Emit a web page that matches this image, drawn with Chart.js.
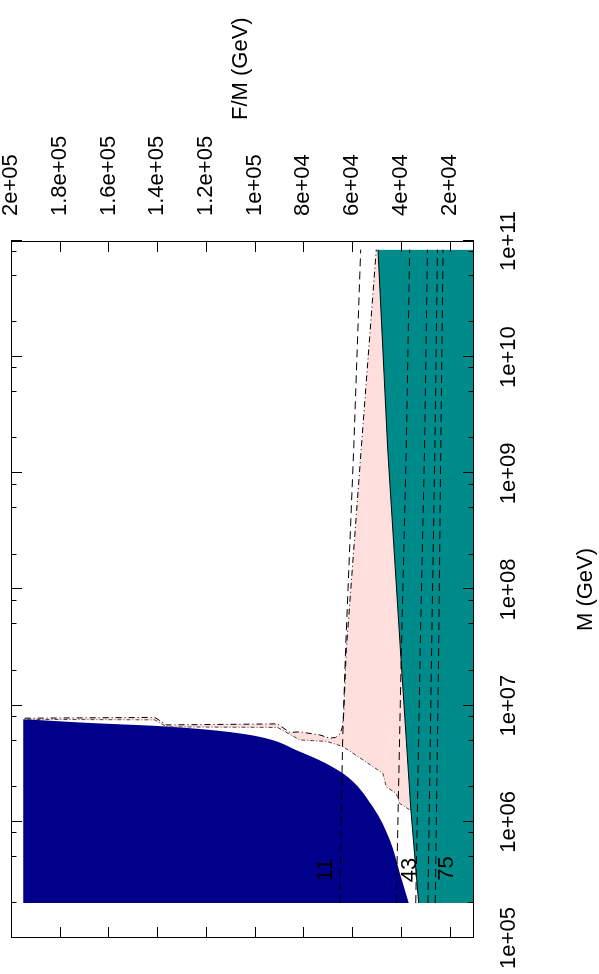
<!DOCTYPE html>
<html>
<head>
<meta charset="utf-8">
<script src="https://cdn.jsdelivr.net/npm/chart.js@4.4.1/dist/chart.umd.min.js"></script>
<style>
  html, body { margin: 0; padding: 0; background: #fff; overflow: hidden; }
  #wrap { position: absolute; left: 0; top: 0; width: 974px; height: 599px;
          transform-origin: 0 0; transform: translateY(974px) rotate(-90deg); }
</style>
</head>
<body>
<div id="wrap"><canvas id="plot" width="974" height="599"></canvas></div>
<script>
// axes: M (GeV) log, F/M (GeV) linear
var mRange = [1e5, 1e11];
var fRange = [1e4, 2e5];
var mTicks = [1e5, 1e6, 1e7, 1e8, 1e9, 1e10, 1e11];
var mTickLabels = ['1e+05', '1e+06', '1e+07', '1e+08', '1e+09', '1e+10', '1e+11'];
var mMinor = [2, 5, 8];
var fTicks = [2e4, 4e4, 6e4, 8e4, 1e5, 1.2e5, 1.4e5, 1.6e5, 1.8e5, 2e5];
var fTickLabels = ['2e+04', '4e+04', '6e+04', '8e+04', '1e+05', '1.2e+05', '1.4e+05', '1.6e+05', '1.8e+05', '2e+05'];

// navy region, lower edge (filled up to navyTop)
var navyM = [2.0e5, 3.63e5, 7.0e5, 1.35e6, 2.62e6, 4.02e6, 5.6e6, 6.31e6, 6.74e6, 7.04e6, 7.65e6];
var navyF = [3.68e4, 4.05e4, 4.46e4, 5.16e4, 6.39e4, 8.15e4, 1.02e5, 1.23e5, 1.43e5, 1.64e5, 1.95e5];
var navyTop = 1.95e5;

// teal region, upper edge (filled down to the axis)
var tealM = [2.0e5, 1.34e6, 3.03e7, 1.6e9, 8.43e10];
var tealF = [3.27e4, 3.6e4, 4.02e4, 4.54e4, 4.94e4];

// dash-dot edge of the pink region
var dashDotM = [7.8e6, 7.93e6, 6.83e6, 6.97e6, 5.89e6, 5.95e6, 5.6e6, 5.25e6, 5.33e6, 5.71e6, 6.44e6, 8.34e6, 3.03e7, 2.43e8, 1.95e9, 8.43e10];
var dashDotF = [1.944e5, 1.41e5, 1.361e5, 9.06e4, 8.56e4, 8.15e4, 7.33e4, 6.92e4, 6.68e4, 6.51e4, 6.41e4, 6.35e4, 6.24e4, 5.92e4, 5.6e4, 5.01e4];

// lower edge of the pink region, from the tip to the navy corner
var pinkLowM = [1.27e6, 1.44e6, 1.76e6, 2.0e6, 2.62e6, 4.45e6, 4.93e6, 5.07e6, 6.5e6, 6.57e6, 7.55e6, 7.62e6];
var pinkLowF = [3.64e4, 4.05e4, 4.19e4, 4.6e4, 4.74e4, 6.38e4, 7.05e4, 8.15e4, 9.06e4, 1.361e5, 1.41e5, 1.952e5];

// dashed contours
var line11M = [2.0e5, 5.07e6, 3.03e7, 1.76e9, 8.43e10];
var line11F = [6.51e4, 6.39e4, 6.27e4, 5.93e4, 5.65e4];
var line43M = [2.0e5, 3.03e7, 1.6e9, 8.43e10];
var line43F = [4.19e4, 3.98e4, 3.78e4, 3.64e4];
var lineAM = [2.0e5, 3.69e7, 1.6e9, 8.43e10];
var lineAF = [3.39e4, 3.2e4, 3.03e4, 2.91e4];
var lineBM = [2.0e5, 3.03e7, 1.95e9, 8.43e10];
var lineBF = [2.89e4, 2.74e4, 2.6e4, 2.5e4];
var lineCM = [2.0e5, 3.03e7, 1.95e9, 8.43e10];
var lineCF = [2.59e4, 2.45e4, 2.36e4, 2.27e4];

var curveLabels = ['11', '43', '75'];
var labelM = [3.85e5, 3.85e5, 3.97e5];
var labelF = [7.07e4, 3.64e4, 2.12e4];

function pts(ms, fs) {
	return ms.map(function (m, i) { return {x: m, y: fs[i]}; });
}

// pink polygon: dash-dot edge, back down the teal edge, then the lower edge
var pinkPoly = pts(dashDotM, dashDotF)
	.concat(pts(tealM, tealF).filter(function (p) { return p.x > 1.4e6; }).reverse())
	.concat(pts(pinkLowM, pinkLowF));

function dashed(ms, fs) {
	return {data: pts(ms, fs), borderColor: '#000', borderWidth: 1, borderDash: [8, 5],
		pointRadius: 0, fill: false, order: 1};
}

var FONT = '"Liberation Sans", Arial, Helvetica, sans-serif';
Chart.defaults.font.family = FONT;
Chart.defaults.font.size = 22;
Chart.defaults.color = '#000';

var framePlugin = {
	id: 'frame',
	afterDatasetsDraw: function (chart) {
		var ctx = chart.ctx, a = chart.chartArea, x = chart.scales.x, y = chart.scales.y;
		ctx.save();
		ctx.strokeStyle = '#000';
		ctx.lineWidth = 1;
		ctx.strokeRect(a.left + 0.5, a.top + 0.5, a.right - a.left - 1, a.bottom - a.top - 1);
		ctx.beginPath();
		mTicks.forEach(function (d, i) {
			var vals = [[d, 11]];
			if (i < mTicks.length - 1) mMinor.forEach(function (k) { vals.push([k * d, 5.5]); });
			vals.forEach(function (t) {
				var px = Math.round(x.getPixelForValue(t[0])) + 0.5;
				ctx.moveTo(px, a.top); ctx.lineTo(px, a.top + t[1]);
				ctx.moveTo(px, a.bottom); ctx.lineTo(px, a.bottom - t[1]);
			});
		});
		fTicks.forEach(function (v) {
			var py = Math.round(y.getPixelForValue(v)) + 0.5;
			ctx.moveTo(a.left, py); ctx.lineTo(a.left + 11, py);
			ctx.moveTo(a.right, py); ctx.lineTo(a.right - 11, py);
		});
		ctx.stroke();

		ctx.fillStyle = '#000';
		ctx.font = '22px ' + FONT;
		ctx.textAlign = 'center';
		ctx.textBaseline = 'middle';
		curveLabels.forEach(function (t, i) {
			ctx.fillText(t, x.getPixelForValue(labelM[i]), y.getPixelForValue(labelF[i]));
		});
		ctx.textAlign = 'left';
		ctx.textBaseline = 'alphabetic';
		ctx.fillText('F/M (GeV)', a.right + 121, (a.top + a.bottom) / 2 + 4);
		ctx.restore();
	}
};

new Chart(document.getElementById('plot'), {
	type: 'line',
	data: {
		datasets: [
			{data: pts(navyM, navyF), fill: {value: navyTop}, backgroundColor: '#00008B',
				borderWidth: 0, pointRadius: 0, cubicInterpolationMode: 'monotone', order: 10},
			{data: pinkPoly, fill: 'shape', backgroundColor: '#FFDEDE',
				borderWidth: 0, pointRadius: 0, order: 10},
			{data: pts(tealM, tealF), fill: 'start', backgroundColor: '#008B8B',
				borderColor: '#000', borderWidth: 1, pointRadius: 0, order: 5},
			{data: pts(dashDotM, dashDotF), borderColor: '#000', borderWidth: 1,
				borderDash: [6, 3, 1, 3], pointRadius: 0, fill: false, order: 1},
			{data: pts(pinkLowM, pinkLowF), borderColor: '#444', borderWidth: 1,
				borderDash: [4, 2, 1, 2], pointRadius: 0, fill: false, order: 1},
			dashed(line11M, line11F),
			dashed(line43M, line43F),
			dashed(lineAM, lineAF),
			dashed(lineBM, lineBF),
			dashed(lineCM, lineCF)
		]
	},
	options: {
		responsive: false,
		animation: false,
		devicePixelRatio: 1,
		layout: {padding: {left: 36, top: 11, right: 0, bottom: 0}},
		plugins: {legend: {display: false}, tooltip: {enabled: false}},
		scales: {
			x: {
				type: 'logarithmic', position: 'bottom', min: mRange[0], max: mRange[1],
				grid: {display: false}, border: {display: false},
				afterBuildTicks: function (s) { s.ticks = mTicks.map(function (v) { return {value: v}; }); },
				ticks: {autoSkip: false, maxRotation: 0, minRotation: 0, padding: 14,
					callback: function (v, i) { return mTickLabels[i]; }},
				title: {display: true, text: 'M (GeV)', padding: {top: 0, bottom: 0}},
				afterFit: function (s) { s.height = 125; s.paddingLeft = 0; s.paddingRight = 0; }
			},
			y: {
				type: 'linear', position: 'right', min: fRange[0], max: fRange[1],
				grid: {display: false}, border: {display: false},
				afterBuildTicks: function (s) { s.ticks = fTicks.map(function (v) { return {value: v}; }); },
				ticks: {padding: 17, callback: function (v, i) { return fTickLabels[i]; }},
				afterFit: function (s) { s.width = 241; s.paddingTop = 0; s.paddingBottom = 0; }
			}
		}
	},
	plugins: [framePlugin]
});
</script>
</body>
</html>
